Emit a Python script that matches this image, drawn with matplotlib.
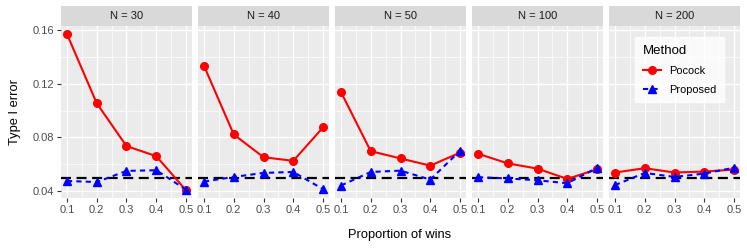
import matplotlib
matplotlib.use("Agg")
import matplotlib.pyplot as plt
from matplotlib.lines import Line2D

plt.rcParams['font.family'] = ['Liberation Sans', 'DejaVu Sans']

# data
props = [0.1, 0.2, 0.3, 0.4, 0.5]
sample_sizes = [30, 40, 50, 100, 200]
pocock = {
    30: [0.157, 0.1054, 0.0735, 0.066, 0.0405],
    40: [0.1334, 0.0822, 0.0652, 0.0625, 0.0874],
    50: [0.1138, 0.0697, 0.0643, 0.0589, 0.0686],
    100: [0.0678, 0.0606, 0.0567, 0.0490, 0.0562],
    200: [0.0538, 0.0570, 0.0538, 0.0545, 0.0560],
}
proposed = {
    30: [0.0475, 0.0467, 0.0550, 0.0555, 0.0410],
    40: [0.0470, 0.0505, 0.0535, 0.0542, 0.0414],
    50: [0.0441, 0.0542, 0.0552, 0.0485, 0.0700],
    100: [0.0503, 0.0494, 0.0480, 0.0458, 0.0572],
    200: [0.0444, 0.0535, 0.0505, 0.0530, 0.0574],
}
alpha = 0.05

W, H = 747, 249
fig = plt.figure(figsize=(W / 100, H / 100), dpi=100)

panel_left = [61, 198, 335, 472, 609]
pw = 131
top, bottom = 26, 198
strip_top = 6

for i, n in enumerate(sample_sizes):
    x0 = panel_left[i]
    ax = fig.add_axes([x0 / W, 1 - bottom / H, pw / W, (bottom - top) / H])
    ax.set_facecolor('#EBEBEB')
    for s in ax.spines.values():
        s.set_visible(False)
    ax.set_xlim(0.08, 0.52)
    ax.set_ylim(0.0348, 0.163)
    ax.set_xticks(props)
    ax.set_xticks([0.15, 0.25, 0.35, 0.45], minor=True)
    ax.set_yticks([0.04, 0.08, 0.12, 0.16])
    ax.set_yticks([0.06, 0.10, 0.14], minor=True)
    ax.grid(True, which='major', color='white', lw=1.0)
    ax.grid(True, which='minor', color='white', lw=0.5)
    ax.set_axisbelow(True)
    ax.tick_params(which='major', length=2.75, width=0.8, color='#333333',
                   labelsize=8, labelcolor='#4D4D4D', pad=2)
    ax.tick_params(which='minor', length=0)
    ax.set_xticklabels([f'{p:.1f}' for p in props])
    if i == 0:
        ax.set_yticklabels(['0.04', '0.08', '0.12', '0.16'])
    else:
        ax.tick_params(axis='y', which='major', length=0, labelleft=False)

    ax.plot(props, pocock[n], color='#FF0000', lw=1.5, marker='o', ms=5.5, zorder=3)
    ax.plot(props, proposed[n], color='#0000FF', lw=1.5, ls=(0, (2.5, 2.0)),
            marker='^', ms=6, zorder=3)
    ax.axhline(alpha, color='black', lw=1.6, ls=(0, (4.5, 2.5)), zorder=2.5)

    # strip
    sax = fig.add_axes([x0 / W, 1 - top / H, pw / W, (top - strip_top) / H])
    sax.set_facecolor('#D9D9D9')
    sax.set_xticks([])
    sax.set_yticks([])
    for s in sax.spines.values():
        s.set_visible(False)
    sax.text(0.5, 0.5, f'N = {n}', ha='center', va='center', fontsize=8,
             color='#1A1A1A', transform=sax.transAxes)

fig.text(15 / W, 1 - 112 / H, 'Type I error', rotation=90, ha='center',
         va='center', fontsize=9.3, color='black')
fig.text(400 / W, 1 - 235 / H, 'Proportion of wins', ha='center', va='center',
         fontsize=9.3, color='black')

handles = [
    Line2D([], [], color='#FF0000', lw=1.5, marker='o', ms=5.5),
    Line2D([], [], color='#0000FF', lw=1.5, ls=(0, (2.5, 2.0)), marker='^', ms=6),
]
leg = fig.legend(handles, ['Pocock', 'Proposed'], title='Method',
                 loc='upper left', bbox_to_anchor=(630 / W, 1 - 32 / H),
                 fontsize=7.9, title_fontsize=9.5, frameon=True, fancybox=False,
                 handlelength=1.6, borderpad=0.7, labelspacing=0.8,
                 handletextpad=0.8)
leg.get_frame().set_facecolor('white')
leg.get_frame().set_edgecolor('white')
leg._legend_box.align = 'left'

fig.savefig('out.png', dpi=100)
